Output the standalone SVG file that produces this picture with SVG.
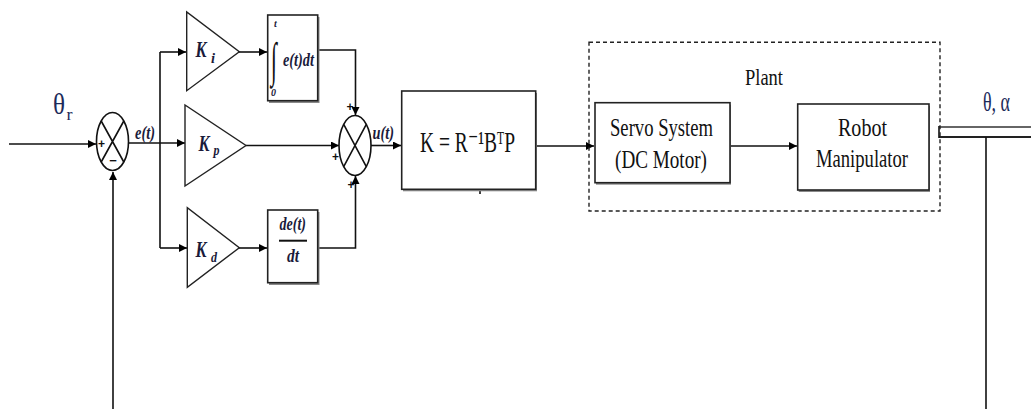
<svg xmlns="http://www.w3.org/2000/svg" width="1031" height="409" viewBox="0 0 1031 409">
<defs>
<marker id="ah" viewBox="0 0 10 10" refX="10" refY="5" markerWidth="10" markerHeight="8" markerUnits="userSpaceOnUse" orient="auto">
<path d="M0,0 L10,5 L0,10 z" fill="#000"/>
</marker>
<style>
.ln{fill:none;stroke:#111;stroke-width:1.6}
.bx{fill:#fff;stroke:#222;stroke-width:1.6}
.sh{fill:#8a8a8a;stroke:none}
.tri{fill:#fff;stroke:#222;stroke-width:1.4}
.sum{fill:#fff;stroke:#111;stroke-width:1.6}
.t{font-family:"Liberation Serif","Times New Roman","DejaVu Serif",serif;fill:#111}
.m{font-family:"Liberation Serif","Times New Roman",serif;font-style:italic;font-weight:bold;fill:#1a1a3a}
.g{font-family:"Liberation Serif","Times New Roman",serif;fill:#1c2a5a}
.sg{font-family:"Liberation Sans",Arial,sans-serif;font-weight:bold;fill:#111}
</style>
</defs>
<rect width="1031" height="409" fill="#fff"/>

<g id="connectors">
<path class="ln" d="M9,144 H96" marker-end="url(#ah)"/>
<path class="ln" d="M113,409 V172" marker-end="url(#ah)"/>
<path class="ln" d="M129,143 H185" marker-end="url(#ah)"/>
<path class="ln" d="M160,52 V248"/>
<path class="ln" d="M160,52 H186" marker-end="url(#ah)"/>
<path class="ln" d="M160,248 H187" marker-end="url(#ah)"/>
<path class="ln" d="M239,52 H267" marker-end="url(#ah)"/>
<path class="ln" d="M239,248 H267" marker-end="url(#ah)"/>
<path class="ln" d="M318,50 H355.5 V115" marker-end="url(#ah)"/>
<path class="ln" d="M318,248 H355.5 V176" marker-end="url(#ah)"/>
<path class="ln" d="M246,145.5 H339" marker-end="url(#ah)"/>
<path class="ln" d="M371,145.5 H401" marker-end="url(#ah)"/>
<path class="ln" d="M536,146 H594" marker-end="url(#ah)"/>
<path class="ln" d="M730,146 H797" marker-end="url(#ah)"/>
<path class="ln" d="M480,190 V194"/>
<path d="M939,127 H1031" fill="none" stroke="#666" stroke-width="2"/>
<path d="M939,137 H1031" fill="none" stroke="#222" stroke-width="2"/>
<path class="ln" d="M939,126 V138"/>
<path class="ln" d="M986,137 V409"/>
</g>

<g id="theta-r">
<text class="g" x="53" y="114" font-size="30" textLength="12" lengthAdjust="spacingAndGlyphs">θ</text>
<text class="g" x="66.5" y="120" font-size="17" textLength="6" lengthAdjust="spacingAndGlyphs">r</text>
</g>

<g id="sum1">
<ellipse class="sum" cx="112.5" cy="141.5" rx="16" ry="29"/>
<path class="ln" stroke-width="1.2" d="M101.2,121 L123.8,162 M123.8,121 L101.2,162"/>
<text class="sg" x="101.5" y="148" font-size="12" text-anchor="middle">+</text>
<text class="sg" x="113" y="165" font-size="13" text-anchor="middle">−</text>
</g>

<g id="e-label">
<text class="m" x="135" y="139" font-size="19" textLength="20" lengthAdjust="spacingAndGlyphs">e(t)</text>
</g>

<g id="Ki">
<polygon class="tri" points="186.7,12 186.7,90.7 239.3,51.7"/>
<text class="m" x="195.5" y="57" font-size="23" textLength="11" lengthAdjust="spacingAndGlyphs">K</text>
<text class="m" x="211" y="63" font-size="15" textLength="4" lengthAdjust="spacingAndGlyphs">i</text>
</g>

<g id="Kp">
<polygon class="tri" points="185,105 185,186 246,145.5"/>
<text class="m" x="198.5" y="151" font-size="23" textLength="11" lengthAdjust="spacingAndGlyphs">K</text>
<text class="m" x="213.5" y="155" font-size="15" textLength="6" lengthAdjust="spacingAndGlyphs">p</text>
</g>

<g id="Kd">
<polygon class="tri" points="187.3,207.7 187.3,287.3 239.3,247.7"/>
<text class="m" x="195.5" y="257" font-size="23" textLength="11" lengthAdjust="spacingAndGlyphs">K</text>
<text class="m" x="211" y="262" font-size="15" textLength="6" lengthAdjust="spacingAndGlyphs">d</text>
</g>

<g id="integral">
<rect class="sh" x="269" y="17" width="50.5" height="86"/>
<rect class="bx" x="267.7" y="15" width="50" height="85.7"/>
<text class="m" x="274" y="27" font-size="10">t</text>
<text class="t" x="271" y="76" font-size="48" transform="translate(271,0) scale(0.45,1) translate(-271,0)">∫</text>
<text class="m" x="271" y="96" font-size="10">0</text>
<text class="m" x="283" y="66" font-size="18" textLength="31" lengthAdjust="spacingAndGlyphs">e(t)dt</text>
</g>

<g id="derivative">
<rect class="sh" x="269" y="212" width="50.5" height="73"/>
<rect class="bx" x="267.7" y="210" width="50" height="72.7"/>
<text class="m" x="279.5" y="230" font-size="18" textLength="26.5" lengthAdjust="spacingAndGlyphs">de(t)</text>
<path d="M279,240.7 H307" stroke="#111" stroke-width="2"/>
<text class="m" x="287" y="262" font-size="18" textLength="12" lengthAdjust="spacingAndGlyphs">dt</text>
</g>

<g id="sum2">
<ellipse class="sum" cx="355" cy="145.5" rx="16" ry="30"/>
<path class="ln" stroke-width="1.2" d="M343.7,124.3 L366.3,166.7 M366.3,124.3 L343.7,166.7"/>
<text class="sg" x="350" y="111" font-size="12" text-anchor="middle">+</text>
<text class="sg" x="335.5" y="161" font-size="12" text-anchor="middle">+</text>
<text class="sg" x="351" y="189" font-size="12" text-anchor="middle">+</text>
</g>

<g id="u-label">
<text class="m" x="372.5" y="139" font-size="19" textLength="21.5" lengthAdjust="spacingAndGlyphs">u(t)</text>
</g>

<g id="K-gain">
<rect class="sh" x="403" y="93" width="134" height="98.3"/>
<rect class="bx" x="401.7" y="91" width="134" height="98.3"/>
<text class="t" x="420" y="152" font-size="30" textLength="95" lengthAdjust="spacingAndGlyphs">K = R⁻¹BᵀP</text>
</g>

<g id="plant">
<rect x="589" y="42.3" width="351" height="168.7" fill="none" stroke="#222" stroke-width="1.4" stroke-dasharray="4,3"/>
<text class="t" x="745" y="85" font-size="23" textLength="38" lengthAdjust="spacingAndGlyphs">Plant</text>
</g>

<g id="servo">
<rect class="sh" x="596" y="104.7" width="135" height="80"/>
<rect class="bx" x="595" y="102.7" width="135" height="80"/>
<text class="t" x="610" y="136" font-size="26" textLength="103" lengthAdjust="spacingAndGlyphs">Servo System</text>
<text class="t" x="615" y="167.5" font-size="26" textLength="92" lengthAdjust="spacingAndGlyphs">(DC Motor)</text>
</g>

<g id="robot">
<rect class="sh" x="798.7" y="106" width="131.3" height="86"/>
<rect class="bx" x="797.7" y="104" width="131.3" height="86"/>
<text class="t" x="838" y="136" font-size="26" textLength="49" lengthAdjust="spacingAndGlyphs">Robot</text>
<text class="t" x="816" y="167" font-size="26" textLength="92" lengthAdjust="spacingAndGlyphs">Manipulator</text>
</g>

<g id="theta-alpha">
<text class="g" x="983" y="110.5" font-size="28" textLength="27" lengthAdjust="spacingAndGlyphs">θ, α</text>
</g>
</svg>
